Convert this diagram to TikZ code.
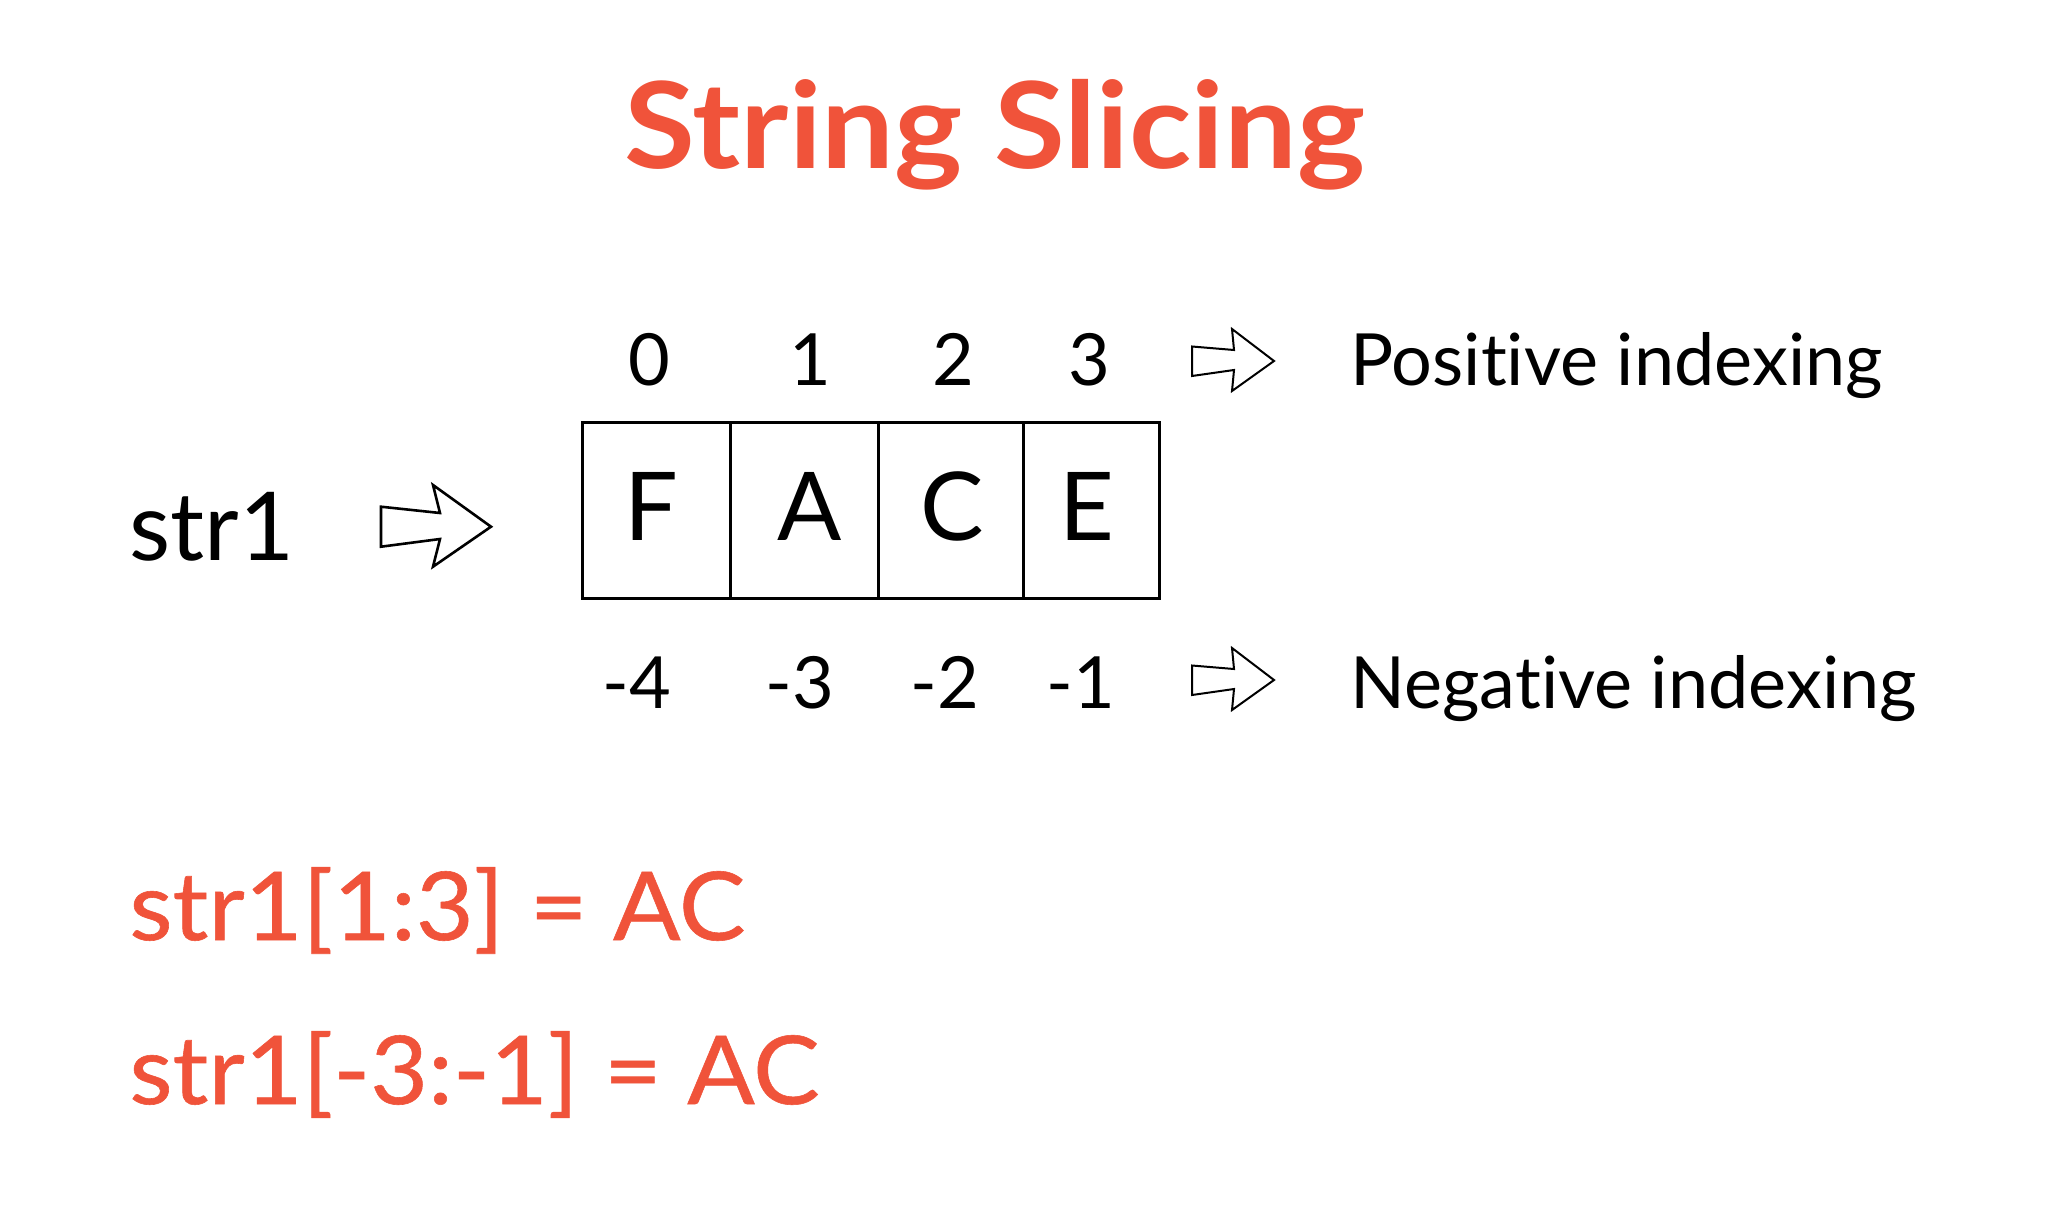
\documentclass[tikz,border=0pt]{standalone}
\usepackage{fontspec}
\setmainfont{Lato}[Ligatures={NoCommon}]
\definecolor{accent}{HTML}{F0533A}
\newcommand{\nolig}{\kern0pt }
\tikzset{
  cell/.style={draw=black, line width=1.5pt, minimum height=88pt, inner sep=0pt, outer sep=0pt},
  letter/.style={font=\fontsize{47.5}{50}\selectfont, anchor=base, inner sep=0pt},
  idx/.style={font=\fontsize{36}{40}\selectfont, anchor=base, inner sep=0pt},
  caption/.style={font=\fontsize{36}{40}\selectfont, anchor=base west, inner sep=0pt},
  redline/.style={font=\fontsize{47.5}{50}\selectfont\addfontfeatures{FakeStretch=1.05,FakeBold=0.6}, anchor=base west, inner sep=0pt, text=accent},
  bigarrow/.pic={\draw[line width=1.3pt, line join=miter] (0,-20) -- (59,-13.7) -- (52,-41.7) -- (110,0) -- (52,40) -- (59,12.3) -- (0,20) -- cycle;},
  smallarrow/.pic={\draw[line width=1pt, line join=miter] (0,-14.5) -- (42,-11) -- (40,-32) -- (82,0) -- (40,30) -- (42,9) -- (0,15) -- cycle;}
}
\begin{document}
\begin{tikzpicture}[x=0.5pt,y=-0.5pt]
\useasboundingbox (0,0) rectangle (2064,1220);
\fill[white] (0,0) rectangle (2064,1220);
% title
\node[anchor=base, inner sep=0pt, text=accent, font=\fontsize{60}{64}\selectfont\bfseries\addfontfeatures{FakeStretch=1.077}] (title) at (995,168) {String Slicing};
% str1
\node[letter, anchor=base west] (str) at (129,560) {str1};
\pic at (381,526.7) {bigarrow};
% cells
\node[cell, minimum width=74pt] (c0) at (656,510) {};
\node[cell, minimum width=74pt] (c1) at (804,510) {};
\node[cell, minimum width=72.5pt] (c2) at (950.5,510) {};
\node[cell, minimum width=68pt] (c3) at (1091,510) {};
\node[letter] (lF) at (651,540) {F};
\node[letter] (lA) at (810,540) {A};
\node[letter] (lC) at (952,540) {C};
\node[letter] (lE) at (1087,540) {E};
% positive indices
\node[idx] (p0) at (649,385) {0};
\node[idx] (p1) at (810,385) {1};
\node[idx] (p2) at (953,385) {2};
\node[idx] (p3) at (1089,385) {3};
\pic at (1192,361) {smallarrow};
\node[caption] (pos) at (1350,385) {Posit\nolig ive indexing};
% negative indices
\node[idx] (n0) at (637,708) {-4};
\node[idx] (n1) at (800,708) {-3};
\node[idx] (n2) at (945,708) {-2};
\node[idx] (n3) at (1081,708) {-1};
\pic at (1192,680) {smallarrow};
\node[caption] (neg) at (1350,708) {Negat\nolig ive indexing};
% results
\node[redline] (r1) at (129,940) {str1[1:3] = AC};
\node[redline] (r2) at (129,1104) {str1[-3:-1] = AC};
\end{tikzpicture}
\end{document}
